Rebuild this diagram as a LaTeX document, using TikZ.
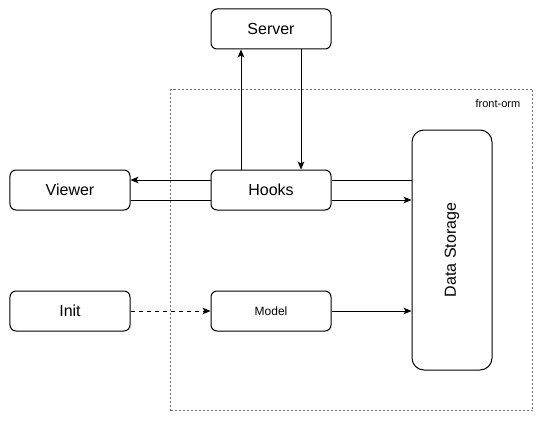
\documentclass[tikz,border=0pt]{standalone}
\usepackage{fontspec}
\setmainfont{Liberation Sans}
\usetikzlibrary{arrows.meta,positioning,fit}

\begin{document}
\begin{tikzpicture}[
  node distance=60pt and 60pt,
  box/.style={draw, line width=0.75pt, rounded corners=4.5pt, align=center, minimum width=90pt, minimum height=30pt, inner sep=0pt, font=\fontsize{12}{14}\selectfont},
  smallbox/.style={box, font=\fontsize{9}{11}\selectfont},
  storebox/.style={draw, line width=0.75pt, rounded corners=9pt, minimum width=60pt, minimum height=180pt, inner sep=0pt},
  frame/.style={draw=black!55, line width=0.6pt, dash pattern=on 1.5pt off 1.5pt, inner sep=30pt},
  arrow/.style={-{Stealth[length=6pt, width=5pt, inset=1.5pt]}, line width=0.75pt},
  link/.style={line width=0.75pt}
]
\useasboundingbox (-52.5pt,-173.25pt) rectangle (353.25pt,142.5pt);

\node[box] (viewer) {Viewer};
\node[box, right=of viewer] (hooks) {Hooks};
\node[box, above=90pt of hooks] (server) {Server};
\node[smallbox, below=of hooks] (model) {Model};
\node[box, left=of model] (init) {Init};
\node[storebox, right=of hooks, yshift=-45pt] (storage) {};
\node[rotate=90, font=\fontsize{12}{14}\selectfont] (storagelabel) at (storage.center) {Data Storage};

\node[frame, fit=(hooks) (storage) (model)] (ormframe) {};
\node[anchor=north east, font=\fontsize{8.25}{10}\selectfont, xshift=-6pt, yshift=-4.5pt] (ormlabel) at (ormframe.north east) {front-orm};

% hooks <-> server
\draw[arrow] ([xshift=-22.5pt]hooks.north) -- ([xshift=-22.5pt]server.south);
\draw[arrow] ([xshift=22.5pt]server.south) -- ([xshift=22.5pt]hooks.north);

% hooks <-> viewer
\draw[arrow] ([yshift=7.5pt]hooks.west) -- ([yshift=7.5pt]viewer.east);
\draw[link] ([yshift=-7.5pt]viewer.east) -- ([yshift=-7.5pt]hooks.west);

% hooks -> storage
\coordinate (hup) at ([yshift=7.5pt]hooks.east);
\coordinate (hdown) at ([yshift=-7.5pt]hooks.east);
\draw[link] (hup) -- (hup -| storage.west);
\draw[arrow] (hdown) -- (hdown -| storage.west);

\draw[arrow, dashed] (init) -- (model);
\draw[arrow] (model) -- (model -| storage.west);
\end{tikzpicture}
\end{document}
